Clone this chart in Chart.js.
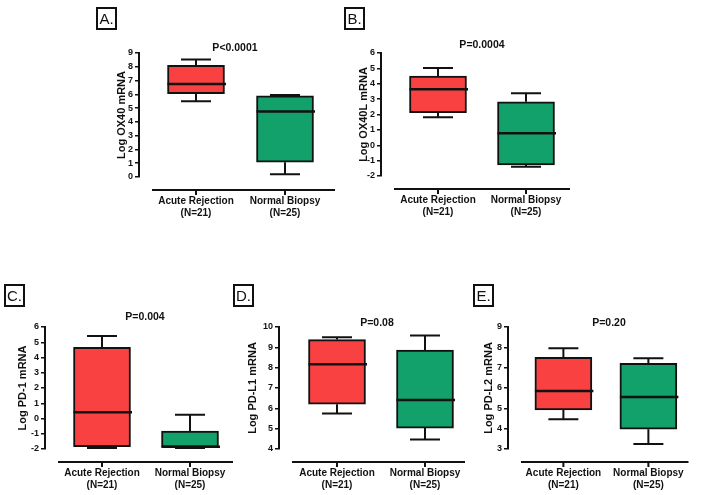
<!DOCTYPE html>
<html>
<head>
<meta charset="utf-8">
<title>OX40 / PD-1 box plots</title>
<script src="https://cdn.jsdelivr.net/npm/chart.js@4.4.1/dist/chart.umd.min.js"></script>
<style>
  body { margin: 0; background: #fff; font-family: "Liberation Sans", Arial, sans-serif; }
  #wrap { position: relative; width: 703px; height: 495px; overflow: hidden; }
  canvas { position: absolute; left: 0; top: 0; }
  .tag { position: absolute; border: 2px solid #111; width: 17px; height: 19px; line-height: 19px;
         font-size: 15px; text-align: center; color: #111; }
</style>
</head>
<body>
<div id="wrap"></div>
<script>
// ---- data ----
const groups = [["Acute Rejection", "(N=21)"], ["Normal Biopsy", "(N=25)"]];
const panelTags = ["A.", "B.", "C.", "D.", "E."];
const yTitles = ["Log OX40 mRNA", "Log OX40L mRNA", "Log PD-1 mRNA", "Log PD-L1 mRNA", "Log PD-L2 mRNA"];
const pValues = ["P<0.0001", "P=0.0004", "P=0.004", "P=0.08", "P=0.20"];
const yMin = [0, -2, -2, 4, 3];
const yMax = [9, 6, 6, 10, 9];
// per panel: [acute rejection, normal biopsy]
const whiskerLow  = [[5.5, 0.2],  [1.82, -1.4],  [-1.93, -1.93], [5.75, 4.47], [4.46, 3.25]];
const q1          = [[6.05, 1.07],[2.12, -1.28], [-1.85, -1.88], [6.2, 5.03],  [4.92, 3.97]];
const median      = [[6.75, 4.75],[3.64, 0.78],  [0.41, -1.86],  [8.17, 6.41], [5.85, 5.56]];
const q3          = [[8.1, 5.9],  [4.5, 2.83],   [4.67, -0.82],  [9.38, 8.87], [7.51, 7.21]];
const whiskerHigh = [[8.52, 5.95],[5.02, 3.38],  [5.41, 0.25],   [9.5, 9.58],  [7.95, 7.46]];

const boxColors = ["#fa4141", "#12a06b"];

// ---- where each panel sits on the page ----
const frames = [
  {axis: 139, top: 53,  bottom: 177, right: 335, t1: 196, t2: 285, titleX: 122, px: 235, py: 48,  tag: [96, 7]},
  {axis: 381, top: 53,  bottom: 176, right: 570, t1: 438, t2: 526, titleX: 364, px: 482, py: 45,  tag: [344, 7]},
  {axis: 45,  top: 327, bottom: 449, right: 233, t1: 102, t2: 190, titleX: 23,  px: 145, py: 317, tag: [4, 284]},
  {axis: 279, top: 327, bottom: 449, right: 465, t1: 337, t2: 425, titleX: 253, px: 377, py: 323, tag: [233, 284]},
  {axis: 508, top: 327, bottom: 449, right: 697, t1: 566, t2: 655, titleX: 489, px: 609, py: 323, tag: [473, 284]}
];

const W = 703, H = 495;
const FONT = '"Liberation Sans", Arial, sans-serif';

// whiskers, medians, detached x axis line and the P value
const boxExtras = {
  id: 'boxExtras',
  afterDatasetsDraw(chart) {
    const k = chart.options.plugins.boxExtras.panel;
    const f = frames[k];
    const {ctx, chartArea, scales: {x, y}} = chart;
    ctx.save();
    ctx.strokeStyle = '#111';
    ctx.lineCap = 'butt';
    for (let i = 0; i < 2; i++) {
      const cx = x.getPixelForValue(i + 1);
      ctx.lineWidth = 2;
      ctx.beginPath();
      ctx.moveTo(cx, y.getPixelForValue(q3[k][i]));
      ctx.lineTo(cx, y.getPixelForValue(whiskerHigh[k][i]));
      ctx.moveTo(cx - 15, y.getPixelForValue(whiskerHigh[k][i]));
      ctx.lineTo(cx + 15, y.getPixelForValue(whiskerHigh[k][i]));
      ctx.moveTo(cx, y.getPixelForValue(q1[k][i]));
      ctx.lineTo(cx, y.getPixelForValue(whiskerLow[k][i]));
      ctx.moveTo(cx - 15, y.getPixelForValue(whiskerLow[k][i]));
      ctx.lineTo(cx + 15, y.getPixelForValue(whiskerLow[k][i]));
      ctx.stroke();
      ctx.lineWidth = 2.5;
      ctx.beginPath();
      ctx.moveTo(cx - 28.5, y.getPixelForValue(median[k][i]));
      ctx.lineTo(cx + 30, y.getPixelForValue(median[k][i]));
      ctx.stroke();
    }
    // x axis, drawn apart from the y axis
    const ly = chartArea.bottom + 13;
    ctx.lineWidth = 2;
    ctx.beginPath();
    ctx.moveTo(chartArea.left + 13, ly);
    ctx.lineTo(chartArea.right, ly);
    for (let i = 0; i < 2; i++) {
      const cx = x.getPixelForValue(i + 1);
      ctx.moveTo(cx, ly);
      ctx.lineTo(cx, ly + 5);
    }
    ctx.stroke();
    ctx.fillStyle = '#111';
    ctx.font = 'bold 10.5px ' + FONT;
    ctx.textAlign = 'center';
    ctx.textBaseline = 'middle';
    ctx.fillText(pValues[k], f.px, f.py);
    ctx.restore();
  }
};

const wrap = document.getElementById('wrap');

function makePanel(k) {
  const f = frames[k];
  const unit = f.t2 - f.t1;
  const xMin = 1 - (f.t1 - f.axis) / unit;
  const xMax = 2 + (f.right - f.t2) / unit;
  const yWidth = f.axis - f.titleX + 10.6;
  const xHeight = 45;

  const canvas = document.createElement('canvas');
  canvas.width = W;
  canvas.height = H;
  wrap.appendChild(canvas);

  const tag = document.createElement('div');
  tag.className = 'tag';
  tag.textContent = panelTags[k];
  tag.style.left = f.tag[0] + 'px';
  tag.style.top = f.tag[1] + 'px';
  wrap.appendChild(tag);

  return new Chart(canvas, {
    type: 'bar',
    data: {
      datasets: [{
        data: [
          {x: 1, y: [q1[k][0], q3[k][0]]},
          {x: 2, y: [q1[k][1], q3[k][1]]}
        ],
        backgroundColor: boxColors,
        borderColor: '#111',
        borderWidth: 2,
        borderSkipped: false,
        barThickness: 57
      }]
    },
    options: {
      responsive: false,
      animation: false,
      devicePixelRatio: 1,
      layout: {
        padding: {
          left: f.axis - yWidth,
          top: f.top,
          right: W - f.right,
          bottom: H - f.bottom - xHeight
        }
      },
      plugins: {
        legend: {display: false},
        tooltip: {enabled: false},
        boxExtras: {panel: k}
      },
      scales: {
        x: {
          type: 'linear',
          offset: false,
          min: xMin,
          max: xMax,
          afterBuildTicks: (scale) => { scale.ticks = [{value: 1}, {value: 2}]; },
          afterFit: (scale) => { scale.height = xHeight; },
          grid: {display: false, drawTicks: false},
          border: {display: false},
          ticks: {
            padding: 18,
            autoSkip: false,
            maxRotation: 0,
            color: '#111',
            font: {family: FONT, size: 10, weight: 'bold', lineHeight: 1.2},
            callback: (v) => groups[v - 1]
          }
        },
        y: {
          min: yMin[k],
          max: yMax[k],
          afterFit: (scale) => { scale.width = yWidth; },
          border: {display: true, color: '#111', width: 2},
          grid: {drawOnChartArea: false, drawTicks: true, tickLength: 4, color: '#111', lineWidth: 1.5},
          ticks: {
            stepSize: 1,
            autoSkip: false,
            padding: 2,
            color: '#111',
            font: {family: FONT, size: 9, weight: 'bold'}
          },
          title: {
            display: true,
            text: yTitles[k],
            color: '#111',
            font: {family: FONT, size: 11, weight: 'bold'}
          }
        }
      }
    },
    plugins: [boxExtras]
  });
}

for (let k = 0; k < frames.length; k++) {
  makePanel(k);
}
</script>
</body>
</html>
